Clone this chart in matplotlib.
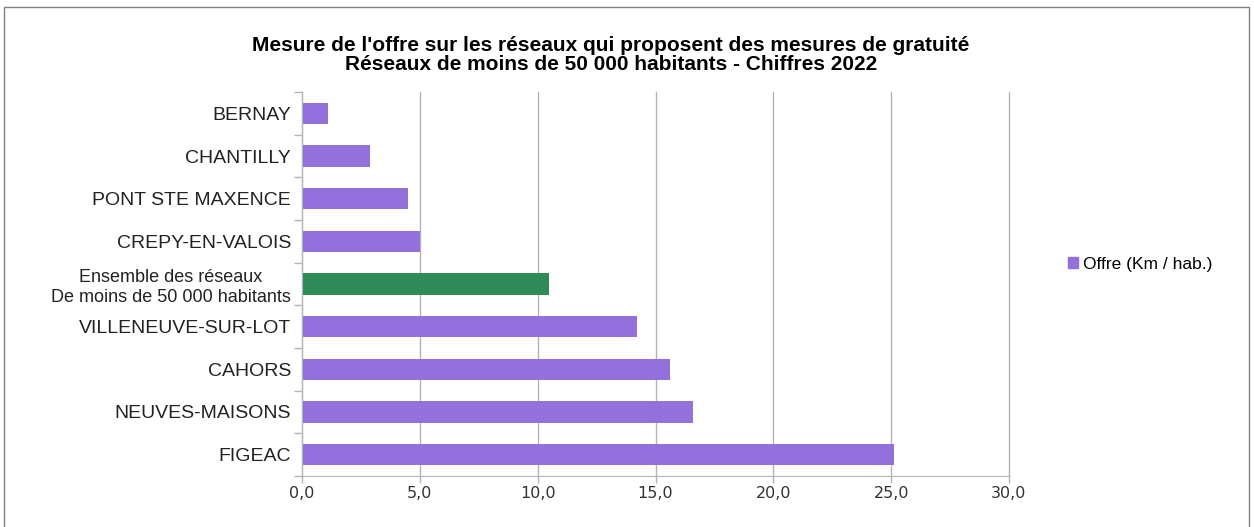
import matplotlib.pyplot as plt
import matplotlib.patches as mpatches
import numpy as np

# réseaux (du haut vers le bas)
reseaux = ["BERNAY", "CHANTILLY", "PONT STE MAXENCE", "CREPY-EN-VALOIS",
           "Ensemble des réseaux\nDe moins de 50 000 habitants",
           "VILLENEUVE-SUR-LOT", "CAHORS", "NEUVES-MAISONS", "FIGEAC"]
# offre en km par habitant
offre = [1.1, 2.9, 4.5, 5.0, 10.5, 14.2, 15.6, 16.6, 25.1]
ensemble = "Ensemble des réseaux\nDe moins de 50 000 habitants"

violet = "#9370db"
vert = "#2e8b57"
gris = "#b3b3b3"

fig = plt.figure(figsize=(12.54, 5.27), dpi=100)
ax = fig.add_axes([302/1254, 1-476/527, 707/1254, 384/527])

y = np.arange(len(reseaux))
couleurs = [vert if r == ensemble else violet for r in reseaux]
ax.barh(y, offre, height=0.5, color=couleurs, zorder=2)

ax.set_xlim(0, 30)
ax.set_ylim(len(reseaux) - 0.5, -0.5)
ax.set_xticks(np.arange(0, 31, 5))
ax.set_xticklabels([f"{v:.1f}".replace(".", ",") for v in np.arange(0, 31, 5)],
                   fontfamily="DejaVu Sans", fontsize=11.5, color="#333333")
ax.set_yticks(y)
ax.set_yticklabels(reseaux, fontfamily="Liberation Sans", fontsize=14, color="#222222")
ax.set_yticks(np.arange(-0.5, len(reseaux), 1), minor=True)

ax.tick_params(axis="y", which="major", length=0, pad=8)
ax.tick_params(axis="y", which="minor", length=6, color=gris, width=1)
ax.tick_params(axis="x", length=5, color=gris, width=1, pad=2)
for lab in ax.get_yticklabels():
    lab.set_horizontalalignment("right")
ensemble_lab = ax.get_yticklabels()[4]
ensemble_lab.set_multialignment("center")
ensemble_lab.set_fontsize(13)

ax.grid(axis="x", color=gris, linewidth=1, zorder=0)
for ligne in ax.get_xgridlines():
    ligne.set_clip_on(False)
ax.set_axisbelow(True)
for s in ["top", "right"]:
    ax.spines[s].set_visible(False)
for s in ["left", "bottom"]:
    ax.spines[s].set_color(gris)

fig.text(611/1254, 1-51/527,
         "Mesure de l'offre sur les réseaux qui proposent des mesures de gratuité",
         ha="center", va="baseline", fontsize=15, fontweight="bold",
         fontfamily="Liberation Sans")
fig.text(611/1254, 1-70/527,
         "Réseaux de moins de 50 000 habitants - Chiffres 2022",
         ha="center", va="baseline", fontsize=15, fontweight="bold",
         fontfamily="Liberation Sans")

poignee = mpatches.Patch(color=violet, label="Offre (Km / hab.)")
fig.legend(handles=[poignee], loc="center left",
           bbox_to_anchor=(1052/1254, 1-264/527), frameon=False,
           handlelength=0.6, handleheight=0.6, handletextpad=0.3,
           prop={"family": "Liberation Sans", "size": 12.5})

# cadre autour du graphique
fig.patches.append(mpatches.Rectangle((4/1254, -0.02), 1245/1254, 1.02 - 7/527,
                                      transform=fig.transFigure, fill=False,
                                      edgecolor="#808080", linewidth=1))

fig.savefig("out.png", dpi=100)
